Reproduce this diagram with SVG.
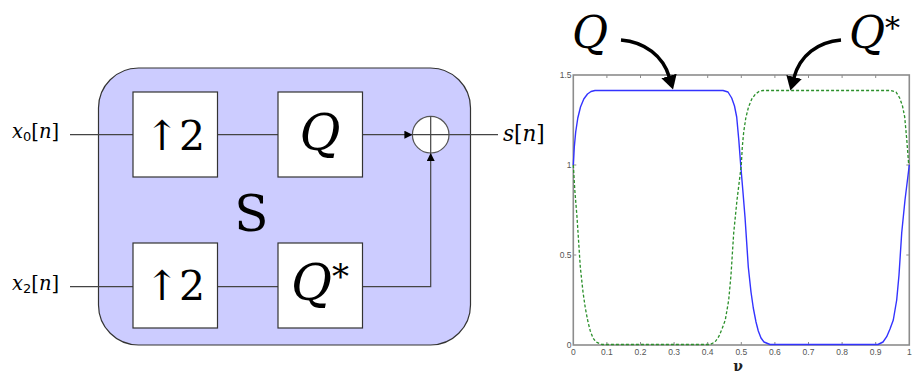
<svg xmlns="http://www.w3.org/2000/svg" width="912" height="374" viewBox="0 0 912 374">
<defs>
<style>
.blk{fill:#ffffff;stroke:#333333;stroke-width:1.2}
.wire{fill:none;stroke:#444444;stroke-width:1.2}
.big{fill:#000}
.it{font-style:italic}
.tick{font-size:8.5px;fill:#555}
.axis{fill:none;stroke:#8c8c8c;stroke-width:1.6}
.tk{stroke:#8c8c8c;stroke-width:1}
</style>
<marker id="sm" viewBox="0 0 8 8" refX="8" refY="4" markerWidth="8" markerHeight="8" markerUnits="userSpaceOnUse" orient="auto">
<path d="M0,0 L8,4 L0,8 z" fill="#000"/>
</marker>
<marker id="bigarrow" viewBox="0 0 14 16" refX="1" refY="8" markerWidth="14" markerHeight="16" markerUnits="userSpaceOnUse" orient="auto">
<path d="M0,0 L14,8 L0,16 z" fill="#000"/>
</marker>
</defs>

<g id="system">
<rect x="98.5" y="68" width="372" height="277" rx="40" ry="40" fill="#ccccff" stroke="#333333" stroke-width="1.2"/>
<text class="big" font-family="DejaVu Serif, Liberation Serif, serif" x="251.5" y="231" font-size="50" text-anchor="middle">S</text>
</g>

<g id="connectors">
<path class="wire" d="M70,134.7 H133"/>
<path class="wire" d="M217,134.7 H278"/>
<path class="wire" d="M362,134.7 H412.4" marker-end="url(#sm)"/>
<path class="wire" d="M449,134.7 H498"/>
<path class="wire" d="M70,286.7 H133"/>
<path class="wire" d="M217,286.7 H278"/>
<path class="wire" d="M362,286.7 H430.7 V153" marker-end="url(#sm)"/>
</g>

<g id="up2-top">
<rect class="blk" x="133" y="92" width="84.5" height="85"/>
<text class="big" font-family="DejaVu Serif, Liberation Serif, serif" x="175" y="150" font-size="41" text-anchor="middle">↑2</text>
</g>
<g id="Q-top">
<rect class="blk" x="278" y="92" width="84.5" height="85"/>
<text class="big it" font-family="DejaVu Serif, Liberation Serif, serif" x="320" y="150" font-size="50" text-anchor="middle">Q</text>
</g>
<g id="up2-bottom">
<rect class="blk" x="133" y="243" width="84.5" height="85"/>
<text class="big" font-family="DejaVu Serif, Liberation Serif, serif" x="175" y="300" font-size="41" text-anchor="middle">↑2</text>
</g>
<g id="Qstar-bottom">
<rect class="blk" x="278" y="243" width="84.5" height="85"/>
<text class="big" font-family="DejaVu Serif, Liberation Serif, serif" x="320" y="300" font-size="50" text-anchor="middle"><tspan class="it">Q</tspan><tspan font-size="34" dy="-12">*</tspan></text>
</g>
<g id="adder">
<circle cx="430.7" cy="134.7" r="18.3" fill="#ffffff" stroke="#555555" stroke-width="1.2"/>
<path class="wire" d="M412.4,134.7 H449 M430.7,116.4 V153"/>
</g>

<g id="label-x0">
<text class="big" font-family="DejaVu Serif, Liberation Serif, serif" x="12" y="138" font-size="19.5"><tspan class="it">x</tspan><tspan font-size="13" dy="3" font-family="DejaVu Sans, sans-serif">0</tspan><tspan dy="-3">[</tspan><tspan class="it">n</tspan>]</text>
</g>
<g id="label-x2">
<text class="big" font-family="DejaVu Serif, Liberation Serif, serif" x="12" y="290" font-size="19.5"><tspan class="it">x</tspan><tspan font-size="13" dy="3" font-family="DejaVu Sans, sans-serif">2</tspan><tspan dy="-3">[</tspan><tspan class="it">n</tspan>]</text>
</g>
<g id="label-s">
<text class="big" font-family="DejaVu Serif, Liberation Serif, serif" x="503" y="141" font-size="21.5"><tspan class="it">s</tspan>[<tspan class="it">n</tspan>]</text>
</g>

<g id="plot">
<rect class="axis" x="573.3" y="75" width="336" height="270"/>
<g class="tk">
<path d="M606.9,345 v-3 M640.5,345 v-3 M674.1,345 v-3 M707.7,345 v-3 M741.3,345 v-3 M774.9,345 v-3 M808.5,345 v-3 M842.1,345 v-3 M875.7,345 v-3"/>
<path d="M606.9,75 v3 M640.5,75 v3 M674.1,75 v3 M707.7,75 v3 M741.3,75 v3 M774.9,75 v3 M808.5,75 v3 M842.1,75 v3 M875.7,75 v3"/>
<path d="M573.3,255 h3 M573.3,165 h3 M909.3,255 h-3 M909.3,165 h-3"/>
</g>
<g class="tick" font-family="Liberation Sans, Arial, sans-serif" text-anchor="end">
<text x="571.5" y="78">1.5</text>
<text x="571.5" y="168">1</text>
<text x="571.5" y="258">0.5</text>
<text x="571.5" y="348">0</text>
</g>
<g class="tick" font-family="Liberation Sans, Arial, sans-serif" text-anchor="middle">
<text x="573.3" y="355">0</text>
<text x="606.9" y="355">0.1</text>
<text x="640.5" y="355">0.2</text>
<text x="674.1" y="355">0.3</text>
<text x="707.7" y="355">0.4</text>
<text x="741.3" y="355">0.5</text>
<text x="774.9" y="355">0.6</text>
<text x="808.5" y="355">0.7</text>
<text x="842.1" y="355">0.8</text>
<text x="875.7" y="355">0.9</text>
<text x="909.3" y="355">1</text>
</g>
<text x="738" y="371" font-family="DejaVu Serif, Liberation Serif, serif" font-weight="bold" font-size="14" text-anchor="middle" fill="#222">ν</text>
<path id="curve-Q" fill="none" stroke="#3333ff" stroke-width="1.4" stroke-linejoin="round" d="M573.3,165 L574.3,147 L575.7,132 L577.8,118 L580.5,107 L583.8,99 L587.5,94 L591,91.5 L595,90.5 L723,90.5 L728,92 L731.7,98 L734.5,106 L736.7,117 L738.8,140 L740.7,165 L742.8,190 L745,217 L748.3,267 L751,292 L753.3,308 L756,322 L758.3,331 L761,338 L764,342 L770,344.5 L878,344.5 L883,342 L886.7,336.7 L890,329 L893.3,320 L896.7,300 L899,275 L901.7,233 L905,200 L909.3,165"/>
<path id="curve-Qstar" fill="none" stroke="#2a8f2a" stroke-width="1.3" stroke-dasharray="3,2" stroke-linejoin="round" d="M573.3,165 L574.8,190 L577,217 L580.3,267 L583,292 L585.3,308 L588,322 L590.3,331 L593,338 L596,342 L602,344.5 L710,344.5 L715,342 L718.7,336.7 L722,329 L725.3,320 L728.7,300 L731,275 L733.7,233 L737,200 L741.3,165 L742.3,147 L743.7,132 L745.8,118 L748.5,107 L751.8,99 L755.5,94 L759,91.5 L763,90.5 L891,90.5 L896,92 L899.7,98 L902.5,106 L904.7,117 L906.8,140 L908.7,165"/>
</g>

<g id="callout-Q">
<text class="big it" font-family="DejaVu Serif, Liberation Serif, serif" x="572" y="48" font-size="44">Q</text>
<path d="M621,40 C645,42 663,56 669.3,77" fill="none" stroke="#000" stroke-width="3.5" marker-end="url(#bigarrow)"/>
</g>
<g id="callout-Qstar">
<text class="big" font-family="DejaVu Serif, Liberation Serif, serif" x="849" y="48" font-size="44"><tspan class="it">Q</tspan><tspan font-size="30" dy="-10">*</tspan></text>
<path d="M841,40 C818,42 800,55 793.8,78" fill="none" stroke="#000" stroke-width="3.5" marker-end="url(#bigarrow)"/>
</g>
</svg>
